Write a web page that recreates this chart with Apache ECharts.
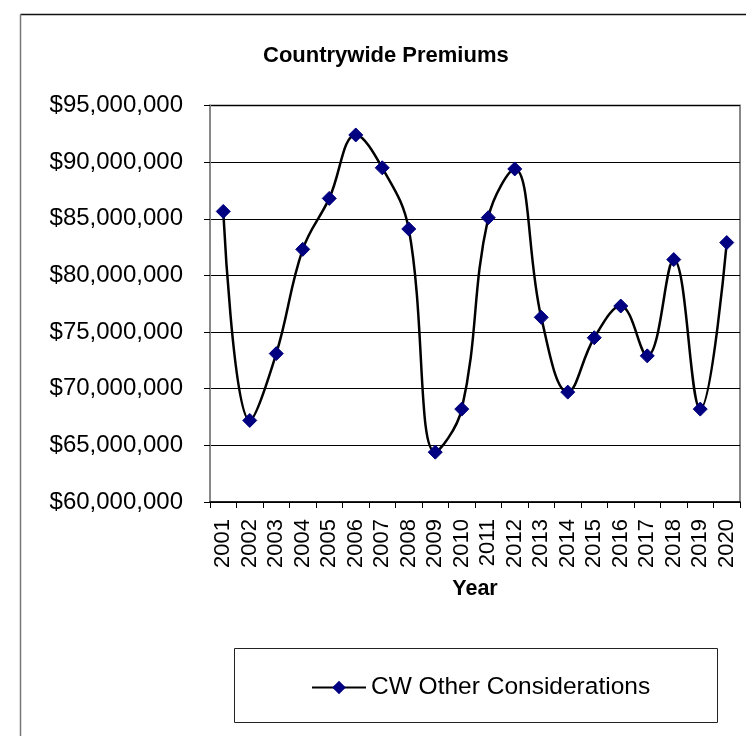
<!DOCTYPE html>
<html>
<head>
<meta charset="utf-8">
<script src="https://cdn.jsdelivr.net/npm/echarts@6/dist/echarts.min.js"></script>
<style>
html,body{margin:0;padding:0;background:#fff;}
#chart{width:746px;height:736px;}
</style>
</head>
<body>
<div id="chart"></div>
<script>
var years = ['2001','2002','2003','2004','2005','2006','2007','2008','2009','2010',
             '2011','2012','2013','2014','2015','2016','2017','2018','2019','2020'];
var premiums = [85650000, 67200000, 73100000, 82300000, 86800000, 92400000, 89500000, 84100000, 64400000, 68200000,
                85100000, 89400000, 76300000, 69700000, 74500000, 77300000, 72900000, 81400000, 68200000, 82900000];
var seriesName = 'CW Other Considerations';
var chartTitle = 'Countrywide Premiums';
var xAxisTitle = 'Year';

var FONT = 'Liberation Sans, Arial, sans-serif';
var chart = echarts.init(document.getElementById('chart'), null, {renderer: 'canvas'});
chart.setOption({
  animation: false,
  backgroundColor: '#fff',
  textStyle: {fontFamily: FONT},
  title: {
    text: chartTitle,
    left: 258, top: 40,
    textStyle: {fontFamily: FONT, fontSize: 22, fontWeight: 'bold', color: '#000'}
  },
  graphic: [
    {type: 'line', shape: {x1: 20.5, y1: 14.5, x2: 746, y2: 14.5}, style: {stroke: '#111', lineWidth: 1.5}},
    {type: 'line', shape: {x1: 20.5, y1: 14.5, x2: 20.5, y2: 736}, style: {stroke: '#777', lineWidth: 1.5}},
    {type: 'rect', shape: {x: 234.5, y: 648.5, width: 483, height: 74}, style: {fill: '#fff', stroke: '#222', lineWidth: 1}, z: 0}
  ],
  legend: {
    left: 306, top: 670,
    itemWidth: 54, itemHeight: 17, itemGap: 10,
    textStyle: {fontFamily: FONT, fontSize: 24.5, color: '#000'},
    data: [{name: seriesName}]
  },
  grid: {
    left: 210, right: 6, top: 105.5, bottom: 234,
    show: true, borderColor: '#888', borderWidth: 2
  },
  xAxis: {
    type: 'category',
    data: years,
    boundaryGap: true,
    name: xAxisTitle,
    nameLocation: 'middle',
    nameGap: 76,
    nameTextStyle: {fontFamily: FONT, fontSize: 21.5, fontWeight: 'bold', color: '#000'},
    axisLine: {lineStyle: {color: '#000', width: 1.5}},
    axisTick: {show: true, inside: false, length: 6, alignWithLabel: false, lineStyle: {color: '#000'}},
    axisLabel: {rotate: 90, margin: 17, fontFamily: FONT, fontSize: 22, color: '#000', interval: 0},
    splitLine: {show: false}
  },
  yAxis: {
    type: 'value',
    min: 60000000, max: 95000000, interval: 5000000,
    axisLine: {show: true, lineStyle: {color: '#888', width: 2}},
    axisTick: {show: true, inside: false, length: 6, lineStyle: {color: '#000'}},
    axisLabel: {
      margin: 27, fontFamily: FONT, fontSize: 24, color: '#000',
      formatter: function (v) { return '$' + v.toLocaleString('en-US'); }
    },
    splitLine: {show: true, lineStyle: {color: '#000', width: 1}}
  },
  series: [{
    name: seriesName,
    type: 'line',
    data: premiums,
    smooth: 0.4,
    symbol: 'diamond',
    symbolSize: 14,
    lineStyle: {color: '#000', width: 2.5},
    itemStyle: {color: '#000080', borderColor: '#000080'},
    z: 5
  }]
});
</script>
</body>
</html>
